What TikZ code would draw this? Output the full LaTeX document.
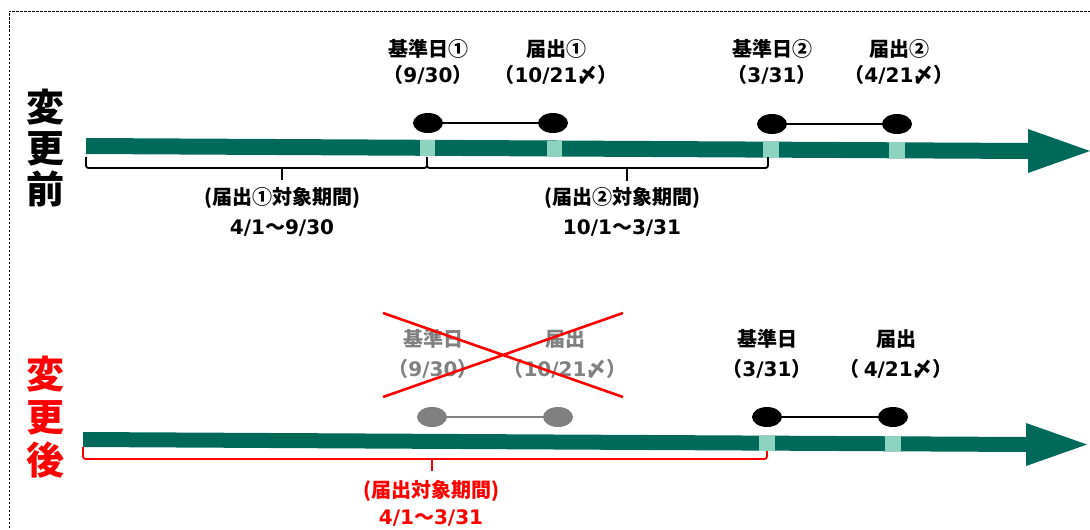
\documentclass[tikz,border=0pt]{standalone}
\usepackage{fontspec}
\setmainfont{Noto Sans CJK JP}
\newfontfamily\latfont{DejaVu Sans}
\newcommand{\nm}[1]{{\latfont #1}}
\usetikzlibrary{shapes.geometric}
\definecolor{bargreen}{RGB}{0,106,90}
\definecolor{tickgreen}{RGB}{142,211,191}
\definecolor{dimgray}{RGB}{128,128,128}
\begin{document}
\begin{tikzpicture}[x=1pt,y=-1pt,
  dot/.style={ellipse, fill=black, minimum width=30pt, minimum height=20pt, inner sep=0pt},
  gdot/.style={dot, fill=dimgray},
  link/.style={line width=1.5pt},
  glink/.style={line width=1.5pt, draw=dimgray},
  tick/.style={fill=tickgreen},
  lbl/.style={align=center, inner sep=0pt, font=\fontsize{20}{26}\selectfont\bfseries},
  lblb/.style={align=center, inner sep=0pt, font=\fontsize{20}{30}\selectfont\bfseries},
  big/.style={align=center, inner sep=0pt, font=\fontsize{38}{41}\selectfont\bfseries},
  brace/.style={line width=1.8pt, rounded corners=2.5pt},
  nub/.style={line width=1.8pt},
]
\useasboundingbox (0,0) rectangle (1090,530);
% dashed frame
\draw[line width=0.8pt, dash pattern=on 2.5pt off 1.5pt] (9,540) -- (9,11) -- (1100,11);

% side titles
\node[big] (before) at (46,148) {変\\更\\前};
\node[big, red, font=\fontsize{38}{43}\selectfont\bfseries] (after) at (46,417) {変\\更\\後};

% ===== top timeline =====
\fill[bargreen] (86,138) -- (1028,143) -- (1028,129) -- (1090,151) -- (1028,173) -- (1028,159) -- (86,154) -- cycle;
\fill[tick] (420,140) rectangle (435,156);
\fill[tick] (547,140.5) rectangle (562,156.5);
\fill[tick] (763,141.6) rectangle (779,157.6);
\fill[tick] (889,142.3) rectangle (905,158.3);

\node[dot] (a1) at (428,123) {};
\node[dot] (a2) at (553,123) {};
\node[dot] (a3) at (772,124) {};
\node[dot] (a4) at (897,124) {};
\draw[link] (a1) -- (a2);
\draw[link] (a3) -- (a4);

\node[lbl] (ta1) at (428,62) {基準日①\\（\nm{9/30}）};
\node[lbl] (ta2) at (556,62) {届出①\\（\nm{10/21}〆）};
\node[lbl] (ta3) at (772,62) {基準日②\\（\nm{3/31}）};
\node[lbl] (ta4) at (899,62) {届出②\\（\nm{4/21}〆）};

% brackets top
\coordinate (b1l) at (86,157);
\coordinate (b1m) at (282,168);
\coordinate (b1r) at (427,157);
\coordinate (b2m) at (627,168);
\coordinate (b2r) at (768,157);
\draw[brace] (b1l) |- (b1m) -| (b1r);
\draw[nub] (b1m) -- ++(0,12);
\draw[brace] (b1r) |- (b2m) -| (b2r);
\draw[nub] (b2m) -- ++(0,13);

\node[lblb] (p1) at (282,212) {(届出①対象期間)\\\nm{4/1}～\nm{9/30}};
\node[lblb] (p2) at (622,212) {(届出②対象期間)\\\nm{10/1}～\nm{3/31}};

% ===== bottom timeline =====
\fill[bargreen] (83,432) -- (1026,437) -- (1026,423) -- (1087,444.5) -- (1026,466) -- (1026,452) -- (83,447) -- cycle;
\fill[tick] (759,435.6) rectangle (775,450.6);
\fill[tick] (885,436.3) rectangle (901,451.3);

\node[gdot] (g1) at (432,417) {};
\node[gdot] (g2) at (558,417) {};
\draw[glink] (g1) -- (g2);
\node[dot] (c1) at (767,417) {};
\node[dot] (c2) at (893,417) {};
\draw[link] (c1) -- (c2);

\node[lblb, dimgray] (tg1) at (433,354) {基準日\\（\nm{9/30}）};
\node[lblb, dimgray] (tg2) at (565,354) {届出\\（\nm{10/21}〆）};
\node[lblb] (tc1) at (767,354) {基準日\\（\nm{3/31}）};
\node[lblb] (tc2) at (896,354) {届出\\（ \nm{4/21}〆）};

% red cross
\coordinate (x1) at (383,313);
\coordinate (x2) at (623,397);
\coordinate (x3) at (383,397);
\coordinate (x4) at (623,313);
\draw[red, line width=2.6pt] (x1) -- (x2);
\draw[red, line width=2.6pt] (x3) -- (x4);

% red bracket
\coordinate (rl) at (83,447);
\coordinate (rm) at (432,459);
\coordinate (rr) at (767,451);
\draw[brace, red] (rl) |- (rm) -| (rr);
\draw[nub, red] (rm) -- ++(0,12);
\node[lblb, red, font=\fontsize{20}{27}\selectfont\bfseries] (rp) at (431,503) {(届出対象期間)\\\nm{4/1}～\nm{3/31}};
\end{tikzpicture}
\end{document}
